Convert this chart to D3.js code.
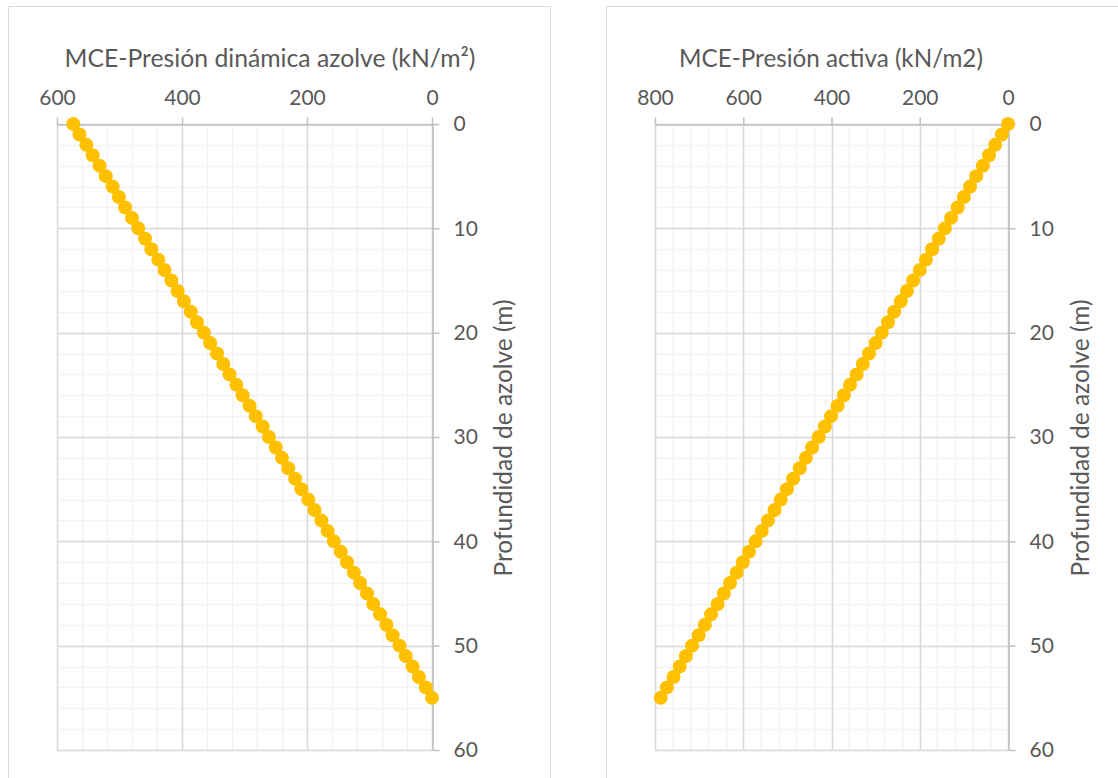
<!DOCTYPE html>
<html>
<head>
<meta charset="utf-8">
<script src="https://cdn.jsdelivr.net/npm/d3@7/dist/d3.min.js"></script>
<style>
  html, body { margin: 0; padding: 0; background: #ffffff; }
  svg { display: block; }
  text { font-family: Lato, "Open Sans", "Noto Sans", sans-serif; fill: #595959; }
</style>
</head>
<body>
<svg id="chart" width="1118" height="778"></svg>
<script>
// ---- Data ----
const depth = [0,1,2,3,4,5,6,7,8,9,10,11,12,13,14,15,16,17,18,19,20,21,22,23,24,25,26,27,28,29,30,31,32,33,34,35,36,37,38,39,40,41,42,43,44,45,46,47,48,49,50,51,52,53,54,55];
const presionDinamica = [574,564,553,543,532,522,511,501,491,480,470,459,449,438,428,417,407,397,386,376,365,355,344,334,324,313,303,292,282,271,261,250,240,230,219,209,198,188,177,167,157,146,136,125,115,104,94,83,73,63,52,42,31,21,10,0];
const presionActiva = [0,14,29,43,57,72,86,100,114,129,143,157,172,186,200,215,229,243,258,272,286,300,315,329,343,358,372,386,401,415,429,444,458,472,487,501,515,529,544,558,572,587,601,615,630,644,658,673,687,701,716,730,744,758,773,787];

const leftXTicks = [600, 400, 200, 0];
const rightXTicks = [800, 600, 400, 200, 0];
const yTicks = [0, 10, 20, 30, 40, 50, 60];

const leftTitle = "MCE-Presión dinámica azolve (kN/m²)";
const rightTitle = "MCE-Presión activa (kN/m2)";
const yTitle = "Profundidad de azolve (m)";

// ---- Drawing ----
const svg = d3.select("#chart");

function fitText(sel, target) {
  const base = parseFloat(sel.style("font-size"));
  const w = sel.node().getComputedTextLength();
  sel.style("font-size", (base * target / w) + "px");
}

function drawChart(cfg) {
  const g = svg.append("g");
  g.append("rect")
    .attr("x", cfg.box[0] + 0.5).attr("y", cfg.box[1] + 0.5)
    .attr("width", cfg.box[2]).attr("height", cfg.box[3])
    .attr("fill", "#ffffff").attr("stroke", "#d9d9d9").attr("stroke-width", 1);

  const x = d3.scaleLinear().domain([cfg.xMax, 0]).range([cfg.x0, cfg.x1]);
  const y = d3.scaleLinear().domain([0, 60]).range([124, 750]);

  const xMinor = d3.range(0, cfg.xMax + 1, 40);
  const yMinor = d3.range(0, 61, 2);
  g.append("g").selectAll("line").data(xMinor).join("line")
    .attr("x1", d => Math.round(x(d)) + 0.5).attr("x2", d => Math.round(x(d)) + 0.5)
    .attr("y1", y(0)).attr("y2", y(60))
    .attr("stroke", "#f2f2f2").attr("stroke-width", 1.5);
  g.append("g").selectAll("line").data(yMinor).join("line")
    .attr("y1", d => Math.round(y(d)) + 0.5).attr("y2", d => Math.round(y(d)) + 0.5)
    .attr("x1", x(cfg.xMax)).attr("x2", x(0))
    .attr("stroke", "#f2f2f2").attr("stroke-width", 1.5);
  g.append("g").selectAll("line").data(cfg.xTicks).join("line")
    .attr("x1", d => Math.round(x(d)) + 0.5).attr("x2", d => Math.round(x(d)) + 0.5)
    .attr("y1", y(0)).attr("y2", y(60))
    .attr("stroke", "#d9d9d9").attr("stroke-width", 1.5);
  g.append("g").selectAll("line").data(yTicks).join("line")
    .attr("y1", d => Math.round(y(d)) + 0.5).attr("y2", d => Math.round(y(d)) + 0.5)
    .attr("x1", x(cfg.xMax)).attr("x2", x(0))
    .attr("stroke", "#d9d9d9").attr("stroke-width", 1.5);

  const xAxis = d3.axisTop(x).tickValues(cfg.xTicks).tickSize(7).tickSizeOuter(0).tickPadding(13).tickFormat(d3.format("d"));
  const gx = g.append("g").attr("transform", `translate(0,${Math.round(y(0)) + 0.5})`).call(xAxis);
  const yAxis = d3.axisRight(y).tickValues(yTicks).tickSize(7).tickSizeOuter(0).tickPadding(14).tickFormat(d3.format("d"));
  const gy = g.append("g").attr("transform", `translate(${Math.round(x(0)) + 0.5},0)`).call(yAxis);
  [gx, gy].forEach(a => {
    a.select(".domain").attr("stroke", "#bfbfbf").attr("stroke-width", 1.5);
    a.selectAll(".tick line").attr("stroke", "#bfbfbf").attr("stroke-width", 1.5);
    a.selectAll(".tick text").attr("fill", "#595959")
      .style("font-family", "Lato, 'Open Sans', sans-serif").style("font-size", "21px");
  });

  const pts = depth.map((d, i) => [cfg.values[i], d]);
  g.append("path").datum(pts)
    .attr("fill", "none").attr("stroke", "#ffc000").attr("stroke-width", 2.5)
    .attr("d", d3.line().x(p => x(p[0])).y(p => y(p[1])));
  g.append("g").selectAll("circle").data(pts).join("circle")
    .attr("cx", p => x(p[0])).attr("cy", p => y(p[1])).attr("r", 7)
    .attr("fill", "#ffc000");

  const t = g.append("text").attr("x", cfg.titleX).attr("y", 67)
    .attr("text-anchor", "middle").style("font-size", "24px").text(cfg.title);
  fitText(t, cfg.titleW);

  const yt = g.append("text")
    .attr("transform", `translate(${cfg.yTitleX},438) rotate(-90)`)
    .attr("text-anchor", "middle").attr("dy", "0.35em")
    .style("font-size", "24px").text(yTitle);
  fitText(yt, 277);
}

drawChart({
  box: [8, 6, 542, 790],
  xMax: 600, x0: 57, x1: 432,
  xTicks: leftXTicks, values: presionDinamica,
  title: leftTitle, titleX: 270, titleW: 411, yTitleX: 503
});
drawChart({
  box: [606, 6, 530, 790],
  xMax: 800, x0: 655, x1: 1008,
  xTicks: rightXTicks, values: presionActiva,
  title: rightTitle, titleX: 831, titleW: 304, yTitleX: 1080
});
</script>
</body>
</html>
